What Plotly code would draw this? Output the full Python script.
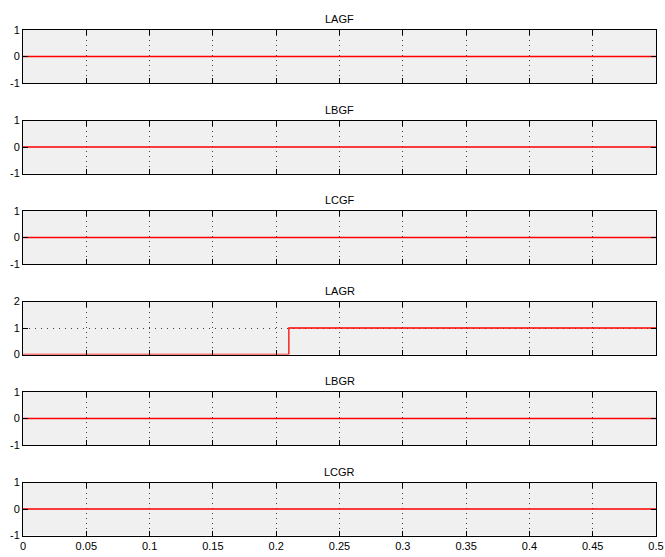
import plotly.graph_objects as go

titles = ["LAGF", "LBGF", "LCGF", "LAGR", "LBGR", "LCGR"]
t_flat = [0, 0.5]
v_flat = [0, 0]
t_lagr = [0, 0.21, 0.5]
v_lagr = [0, 1, 1]
series_t = [t_flat, t_flat, t_flat, t_lagr, t_flat, t_flat]
series_v = [v_flat, v_flat, v_flat, v_lagr, v_flat, v_flat]
y_ranges = [[-1, 1], [-1, 1], [-1, 1], [0, 2], [-1, 1], [-1, 1]]
y_ticks = [[-1, 0, 1], [-1, 0, 1], [-1, 0, 1], [0, 1, 2], [-1, 0, 1], [-1, 0, 1]]
x_ticks = [0, 0.05, 0.1, 0.15, 0.2, 0.25, 0.3, 0.35, 0.4, 0.45, 0.5]
x_ticklabels = ["0", "0.05", "0.1", "0.15", "0.2", "0.25", "0.3", "0.35", "0.4", "0.45", "0.5"]

W, H = 665, 557
x0_px, x1_px = 23, 656
tops = [30, 120.5, 211, 301.5, 392, 482.5]
panel_h = 53

fig = go.Figure()
font = dict(family="Liberation Sans, Arial, sans-serif", size=11, color="black")

for i in range(6):
    n = i + 1
    xa = "x" if n == 1 else f"x{n}"
    ya = "y" if n == 1 else f"y{n}"
    fig.add_trace(go.Scatter(x=series_t[i], y=series_v[i], mode="lines",
                             line=dict(color="#ff0000", width=1.3, shape="hv"),
                             xaxis=xa, yaxis=ya, showlegend=False, hoverinfo="skip"))
    top = tops[i]
    bot = top + panel_h
    dom_y = [1 - bot / H, 1 - top / H]
    common = dict(showline=True, linecolor="black", linewidth=1, mirror="allticks",
                  ticks="inside", ticklen=5, tickcolor="black", tickwidth=1,
                  gridcolor="#404040", gridwidth=1,
                  zeroline=False, tickfont=font, automargin=False)
    fig.layout[f"xaxis{'' if n == 1 else n}"] = dict(
        domain=[x0_px / W, x1_px / W], range=[0, 0.5], anchor=ya,
        tickmode="array", tickvals=x_ticks, ticktext=x_ticklabels,
        showticklabels=(n == 6), showgrid=True, griddash="1px,4px", **common)
    # horizontal grid only visible where the trace does not cover it (LAGR)
    fig.layout[f"yaxis{'' if n == 1 else n}"] = dict(
        domain=dom_y, range=y_ranges[i], anchor=xa,
        tickmode="array", tickvals=y_ticks[i], ticktext=[str(v) for v in y_ticks[i]],
        showgrid=(titles[i] == "LAGR"), griddash="1px,5px", **common)
    fig.add_annotation(text=titles[i], x=(x0_px + x1_px) / 2 / W, y=1 - (top - 3) / H,
                       xref="paper", yref="paper", xanchor="center", yanchor="bottom",
                       showarrow=False, font=font)

fig.update_layout(width=W, height=H,
                  margin=dict(l=0, r=0, t=0, b=0, pad=0, autoexpand=False),
                  paper_bgcolor="white", plot_bgcolor="#f0f0f0", font=font)
post = ("document.documentElement.style.margin='0';document.body.style.margin='0';"
        "document.body.style.overflow='hidden';")
fig.write_html("out.html", config={"displayModeBar": False}, post_script=post)
